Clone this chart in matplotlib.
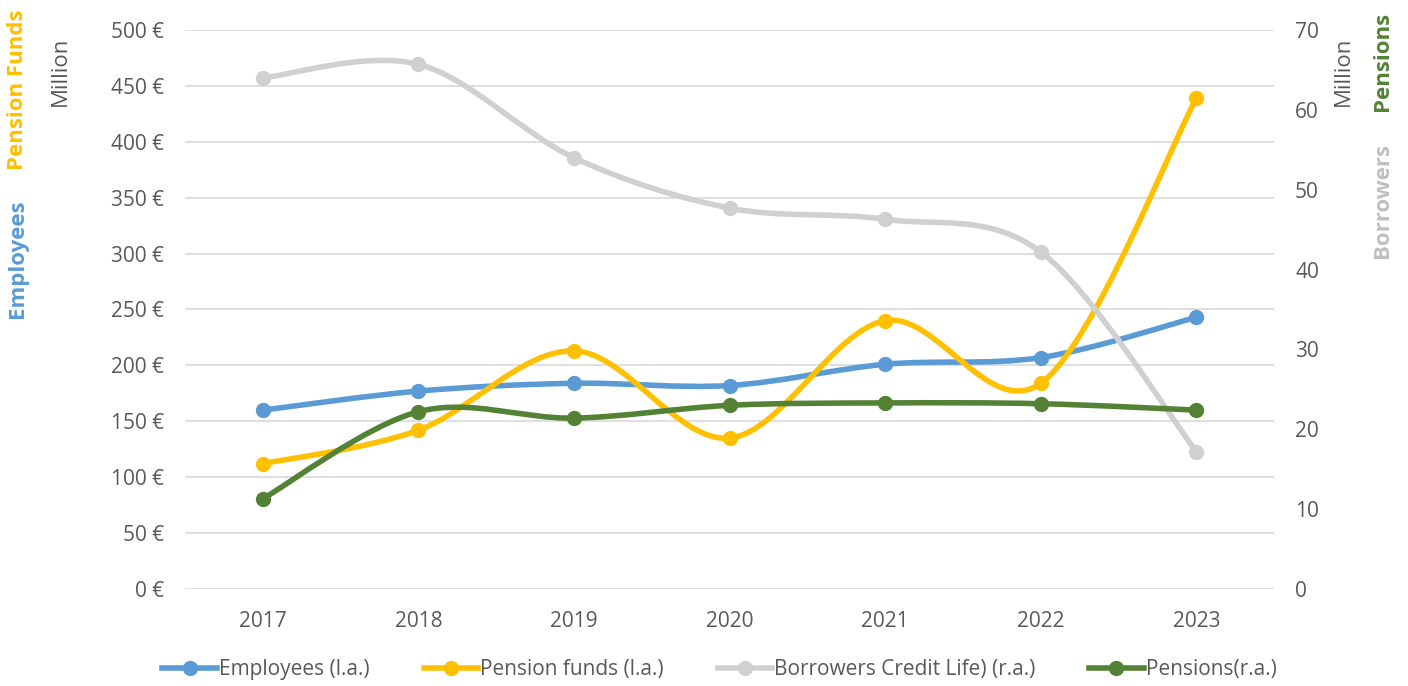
import matplotlib.pyplot as plt
import numpy as np
from matplotlib.path import Path
from matplotlib.patches import PathPatch
from matplotlib.lines import Line2D

years = ['2017', '2018', '2019', '2020', '2021', '2022', '2023']
employees = [160, 177, 184, 182, 201, 207, 243]
pension_funds = [112, 142, 213, 135, 240, 184, 439]
borrowers = [64.0, 65.7, 54.0, 47.7, 46.3, 42.2, 17.2]
pensions = [11.3, 22.2, 21.4, 23.0, 23.3, 23.2, 22.4]

C_EMP = '#5B9BD5'
C_PF = '#FFC000'
C_BOR = '#D0D0D0'
C_PEN = '#548235'
C_TXT = '#595959'

plt.rcParams['font.family'] = ['Open Sans', 'DejaVu Sans']


def smooth_path(xs, ys):
    # Excel-like smoothed line: cubic bezier through the points
    pts = np.column_stack([xs, ys]).astype(float)
    n = len(pts)
    verts = [pts[0]]
    codes = [Path.MOVETO]
    for i in range(n - 1):
        p0 = pts[i - 1] if i > 0 else pts[i]
        p1 = pts[i]
        p2 = pts[i + 1]
        p3 = pts[i + 2] if i + 2 < n else pts[i + 1]
        c1 = p1 + (p2 - p0) / 6.0
        c2 = p2 - (p3 - p1) / 6.0
        verts += [c1, c2, p2]
        codes += [Path.CURVE4] * 3
    return Path(verts, codes)


def draw_series(ax, ys, color):
    xs = np.arange(len(ys))
    ax.add_patch(PathPatch(smooth_path(xs, ys), facecolor='none',
                           edgecolor=color, lw=4, capstyle='round', zorder=3))
    ax.plot(xs, ys, 'o', color=color, markersize=10, zorder=4)


fig = plt.figure(figsize=(14.08, 6.86), dpi=100)
ax = fig.add_axes([0.1314, 0.1414, 0.7736, 0.8149])
ax2 = ax.twinx()

draw_series(ax, employees, C_EMP)
draw_series(ax, pension_funds, C_PF)
draw_series(ax2, borrowers, C_BOR)
draw_series(ax2, pensions, C_PEN)

ax.set_xlim(-0.5, 6.5)
ax.set_ylim(0, 500)
ax2.set_ylim(0, 70)
ax.set_xticks(range(len(years)))
ax.set_xticklabels(years)
ax.set_yticks(np.arange(0, 501, 50))
ax.set_yticklabels([f'{v} €' for v in range(0, 501, 50)])
ax2.set_yticks(np.arange(0, 71, 10))

ax.grid(axis='y', color='#D9D9D9', lw=1.2)
ax.set_axisbelow(True)
for a in (ax, ax2):
    for s in a.spines.values():
        s.set_visible(False)
    a.tick_params(length=0, labelsize=15, labelcolor=C_TXT)
ax.tick_params(axis='x', pad=16)
ax.tick_params(axis='y', pad=15)
ax2.tick_params(axis='y', pad=15)

# left axis titles
fig.text(18 / 1408, 1 - 90 / 686, 'Pension Funds', rotation=90, color=C_PF,
         fontsize=16, fontweight='bold', ha='center', va='center')
fig.text(18 / 1408, 1 - 259 / 686, 'Employees', rotation=90, color=C_EMP,
         fontsize=16, fontweight='bold', ha='center', va='center')
fig.text(60 / 1408, 1 - 71 / 686, 'Million', rotation=90, color=C_TXT,
         fontsize=16, ha='center', va='center')
# right axis titles
fig.text(1343 / 1408, 1 - 71 / 686, 'Million', rotation=90, color=C_TXT,
         fontsize=16, ha='center', va='center')
fig.text(1382 / 1408, 1 - 61 / 686, 'Pensions', rotation=90, color=C_PEN,
         fontsize=16, fontweight='bold', ha='center', va='center')
fig.text(1382 / 1408, 1 - 200 / 686, 'Borrowers', rotation=90, color='#BFBFBF',
         fontsize=16, fontweight='bold', ha='center', va='center')

labels = ['Employees (l.a.)', 'Pension funds (l.a.)',
          'Borrowers Credit Life) (r.a.)', 'Pensions(r.a.)']
handles = [Line2D([], [], color=c, lw=4, marker='o', markersize=10)
           for c in (C_EMP, C_PF, C_BOR, C_PEN)]
leg = fig.legend(handles, labels, loc='center', bbox_to_anchor=(0.511, 1 - 670 / 686),
                 ncol=4, frameon=False, fontsize=15, handlelength=2.6,
                 handletextpad=0.1, columnspacing=2.6)
for t in leg.get_texts():
    t.set_color(C_TXT)

fig.savefig('out.png', dpi=100)
